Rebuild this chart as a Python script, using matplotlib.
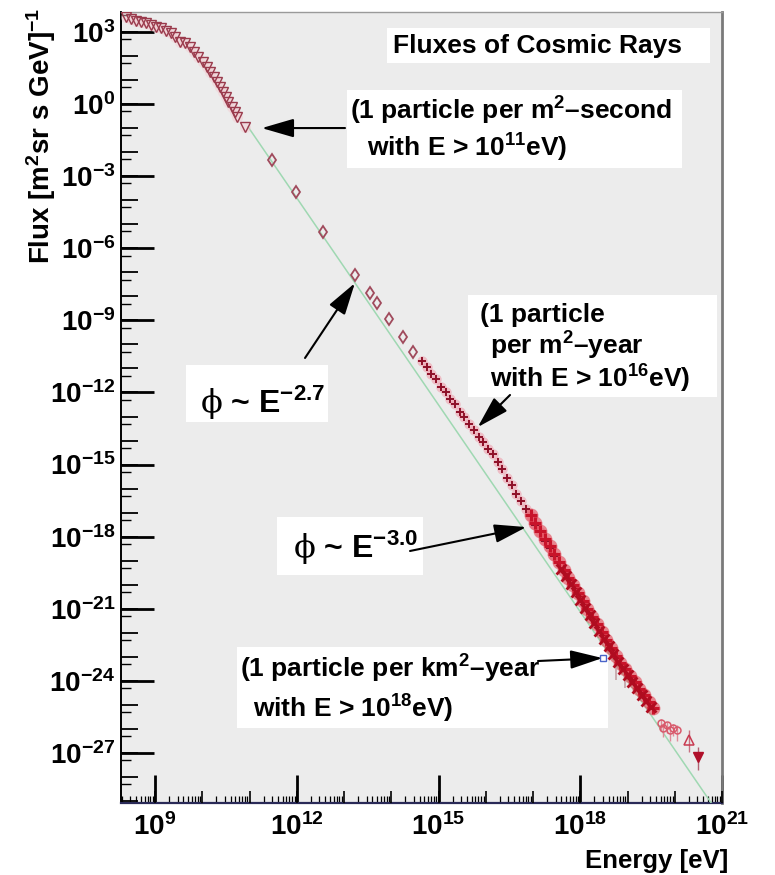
import numpy as np
import matplotlib
matplotlib.use("Agg")
import matplotlib.pyplot as plt
from matplotlib.ticker import FixedLocator, LogLocator, NullLocator, NullFormatter
from matplotlib.patches import Rectangle

plt.rcParams.update({
    "font.family": ["Liberation Sans", "DejaVu Sans"],
    "font.weight": "bold",
    "axes.labelweight": "bold",
    "mathtext.fontset": "custom",
    "mathtext.rm": "Liberation Sans:bold",
    "mathtext.bf": "Liberation Sans:bold",
    "mathtext.it": "Liberation Sans:bold:italic",
    "mathtext.sf": "DejaVu Serif:weight=normal",
})

# ---------------- data (log10 of energy in eV, log10 of flux) ----------------
# low-energy spectrum (open down triangles)
tri_log_energy = [8.39, 8.49, 8.60, 8.70, 8.81, 8.91, 9.02, 9.12, 9.23, 9.33,
                  9.42, 9.53, 9.63, 9.74, 9.82, 9.92, 10.01, 10.09, 10.16, 10.25,
                  10.32, 10.37, 10.44, 10.50, 10.55, 10.62, 10.69, 10.74, 10.90]
tri_log_flux = [3.61, 3.54, 3.47, 3.43, 3.36, 3.29, 3.22, 3.15, 3.05, 2.95,
                2.78, 2.60, 2.53, 2.36, 2.18, 1.97, 1.76, 1.56, 1.35, 1.14,
                0.93, 0.72, 0.51, 0.31, 0.10, -0.11, -0.32, -0.55, -0.94]

# balloon / satellite points (open diamonds)
diam_log_energy = [11.47, 11.98, 12.56, 13.23, 13.55, 13.69, 13.95, 14.25, 14.46]
diam_log_flux = [-2.33, -3.65, -5.31, -7.11, -7.85, -8.29, -8.96, -9.68, -10.30]

# air-shower points around the knee
knee_log_energy = [14.65, 14.75, 14.85, 14.95, 15.05, 15.15, 15.25, 15.35, 15.45, 15.55,
                   15.65, 15.75, 15.85, 15.95, 16.05, 16.15, 16.25, 16.35, 16.45, 16.55,
                   16.65, 16.75, 16.85, 16.95, 17.05, 17.15, 17.25, 17.35, 17.45]
knee_log_flux = [-10.70, -10.94, -11.25, -11.46, -11.76, -11.98, -12.28, -12.50, -12.80, -13.03,
                 -13.31, -13.55, -13.84, -14.07, -14.35, -14.58, -14.90, -15.20, -15.55, -15.85,
                 -16.21, -16.50, -16.86, -17.15, -17.51, -17.80, -18.16, -18.45, -18.81]

# high-energy air-shower points (two overlapping data sets)
uhe_a_log_energy = [16.95, 17.05, 17.15, 17.25, 17.35, 17.45, 17.55, 17.65, 17.75, 17.85,
                    17.95, 18.05, 18.15, 18.25, 18.35, 18.45, 18.55, 18.65, 18.75, 18.85,
                    18.95, 19.05, 19.15, 19.25, 19.35, 19.45, 19.55]
uhe_a_log_flux = [-17.11, -17.44, -17.75, -18.10, -18.40, -18.72, -19.05, -19.40, -19.70, -20.03,
                  -20.36, -20.66, -21.01, -21.35, -21.64, -21.98, -22.30, -22.62, -22.95, -23.26,
                  -23.52, -23.80, -24.06, -24.33, -24.58, -24.88, -25.12]
uhe_b_log_energy = [17.6, 17.7, 17.8, 17.9, 18.0, 18.1, 18.2, 18.3, 18.4, 18.5,
                    18.6, 18.7, 18.8, 18.9, 19.0, 19.1, 19.2, 19.3, 19.4, 19.5]
uhe_b_log_flux = [-19.33, -19.64, -19.98, -20.30, -20.62, -20.95, -21.27, -21.60, -21.93, -22.24,
                  -22.56, -22.90, -23.22, -23.50, -23.76, -24.05, -24.31, -24.58, -24.84, -25.10]

# points with large lower errors near 10^19 eV
wide_log_energy = [18.76, 18.94]
wide_log_flux = [-23.26, -23.78]
wide_log_err_low = [0.70, 0.50]

# highest-energy tail
tail_log_energy = [19.70, 19.76, 19.83, 19.90, 19.96, 20.04]
tail_log_flux = [-25.75, -25.95, -25.85, -26.05, -25.95, -26.05]
tail_log_err_low = [0.35, 0.40, 0.30, 0.45, 0.35, 0.45]
tail_log_err_high = [0.15, 0.20, 0.15, 0.20, 0.15, 0.20]

up_log_energy = [20.31]
up_log_flux = [-26.46]
up_log_err = ([0.49], [0.41])
down_log_energy = [20.49]
down_log_flux = [-27.16]
down_log_err = ([0.54], [0.41])

# single marker at 1 particle per km^2-year
km_log_energy = [18.48]
km_log_flux = [-23.06]

# power-law guide line
fit_log_energy = [10.97, 20.80]
fit_log_flux = [-0.95, -29.16]

# axis ranges and tick decades
x_log_range = (8.28, 21.0)
y_log_range = (-29.08, 3.83)
xtick_exp = [9, 12, 15, 18, 21]
ytick_exp = [-27, -24, -21, -18, -15, -12, -9, -6, -3, 0, 3]

# annotation targets (log10 E, log10 flux)
ann_second = (11.26, -1.00)
ann_year = (15.83, -13.44)
ann_27 = (13.23, -7.45)
ann_30 = (16.86, -17.60)
ann_km = (18.47, -23.05)


def lin(v):
    return 10.0 ** np.asarray(v, dtype=float)


def log_err(logf, lo, hi):
    f = lin(logf)
    return [f - lin(np.asarray(logf) - np.asarray(lo)), lin(np.asarray(logf) + np.asarray(hi)) - f]


# ---------------- figure ----------------
fig = plt.figure(figsize=(7.75, 8.75), dpi=100)
rect = [121 / 775, 1 - 803 / 875, 601 / 775, 791 / 875]
ax = fig.add_axes(rect)
ax.set_facecolor("#ececec")
ax.set_xscale("log")
ax.set_yscale("log")
ax.set_xlim(lin(x_log_range[0]), lin(x_log_range[1]))
ax.set_ylim(lin(y_log_range[0]), lin(y_log_range[1]))

# guide line
ax.plot(lin(fit_log_energy), lin(fit_log_flux), color="#9fd8b2", lw=1.1, zorder=3)

# low-energy triangles with soft halo
ax.plot(lin(tri_log_energy), lin(tri_log_flux), "o", ms=8, color="#f3c8cd", alpha=0.45,
        mec="none", zorder=3)
ax.plot(lin(tri_log_energy), lin(tri_log_flux), "v", ms=7, mfc="none", mec="#9a3a4c",
        mew=1.0, zorder=4)

# diamonds
ax.plot(lin(diam_log_energy), lin(diam_log_flux), "d", ms=6.5, mfc="none", mec="#a04a5c",
        mew=1.3, zorder=4)

# knee crosses
ax.plot(lin(knee_log_energy), lin(knee_log_flux), "o", ms=7.5, color="#eea0ae", alpha=0.6,
        mec="none", zorder=3)
ax.plot(lin(knee_log_energy), lin(knee_log_flux), "+", ms=6, color="#8e1028", mew=1.4, zorder=4)

# dense UHE band
ax.plot(lin(uhe_a_log_energy), lin(uhe_a_log_flux), "o", ms=10, color="#e44252", alpha=0.6,
        mec="none", zorder=3)
ax.plot(lin(uhe_a_log_energy), lin(uhe_a_log_flux), "+", ms=9, color="#c8142a", mew=2.2, zorder=4)
ax.plot(lin(uhe_b_log_energy), lin(uhe_b_log_flux), "x", ms=7, color="#b00c20", mew=2.0, zorder=4)

# points with large error bars
ax.errorbar(lin(wide_log_energy), lin(wide_log_flux),
            yerr=log_err(wide_log_flux, wide_log_err_low, [0.1, 0.1]),
            fmt="none", ecolor="#c4a2a6", elinewidth=1.2, zorder=3)

# tail
ax.errorbar(lin(tail_log_energy), lin(tail_log_flux),
            yerr=log_err(tail_log_flux, tail_log_err_low, tail_log_err_high),
            fmt="o", ms=5, mfc="none", mec="#d85a6c", mew=1.1,
            ecolor="#e08a98", elinewidth=1.0, zorder=4)
ax.errorbar(lin(up_log_energy), lin(up_log_flux),
            yerr=log_err(up_log_flux, up_log_err[0], up_log_err[1]),
            fmt="^", ms=7, mfc="none", mec="#c83a50", mew=1.1,
            ecolor="#c87080", elinewidth=1.0, zorder=4)
ax.errorbar(lin(down_log_energy), lin(down_log_flux),
            yerr=log_err(down_log_flux, down_log_err[0], down_log_err[1]),
            fmt="v", ms=7, mfc="#b0102a", mec="#b0102a",
            ecolor="#b06070", elinewidth=1.0, zorder=4)

ax.plot(lin(km_log_energy), lin(km_log_flux), "s", ms=4, mfc="none", mec="#4a64c8", mew=1.0,
        zorder=5)

# ---------------- axes styling ----------------
ax.xaxis.set_major_locator(FixedLocator(lin(xtick_exp)))
ax.yaxis.set_major_locator(FixedLocator(lin(ytick_exp)))
ax.xaxis.set_minor_locator(LogLocator(base=10, subs=np.arange(2, 10), numticks=300))
ax.yaxis.set_minor_locator(LogLocator(base=10, subs=(5.0,), numticks=300))
ax.xaxis.set_minor_formatter(NullFormatter())
ax.yaxis.set_minor_formatter(NullFormatter())
ax.tick_params(which="both", direction="in", top=False, right=False, colors="black")
ax.tick_params(axis="x", which="major", length=20, width=2.0, labelsize=20, pad=7)
ax.tick_params(axis="y", which="major", length=24, width=2.0, labelsize=20, pad=4)
ax.tick_params(axis="x", which="minor", length=5, width=0.9)
ax.tick_params(axis="y", which="minor", length=7, width=1.0)

ax.spines["left"].set_color("black")
ax.spines["left"].set_linewidth(1.4)
ax.spines["bottom"].set_color("#2a2a58")
ax.spines["bottom"].set_linewidth(1.6)
ax.spines["top"].set_color("#9a9a9a")
ax.spines["top"].set_linewidth(1.0)
ax.spines["right"].set_color("#7a7a7a")
ax.spines["right"].set_linewidth(2.0)

ax.set_ylabel("Flux [m$^{2}$sr s GeV]$^{-1}$", fontsize=20, fontweight="bold", loc="top")
ax.yaxis.set_label_coords(-0.104, 1.006)
ax.set_xlabel("Energy [eV]", fontsize=18.5, fontweight="bold", loc="right")
ax.xaxis.set_label_coords(1.01, -0.058)

# decade ticks of intermediate length
ov = fig.add_axes(rect, frameon=False)
ov.set_xscale("log")
ov.set_yscale("log")
ov.set_xlim(ax.get_xlim())
ov.set_ylim(ax.get_ylim())
ov.xaxis.set_major_locator(LogLocator(base=10, numticks=300))
ov.yaxis.set_major_locator(LogLocator(base=10, numticks=300))
ov.xaxis.set_minor_locator(NullLocator())
ov.yaxis.set_minor_locator(NullLocator())
ov.tick_params(direction="in", labelbottom=False, labelleft=False, top=False, right=False)
ov.tick_params(axis="x", length=9, width=1.2)
ov.tick_params(axis="y", length=12, width=1.3)
ov.set_navigate(False)

# ---------------- annotation boxes ----------------
boxes = [
    (0.4426, 0.9355, 0.5374, 0.0442),
    (0.3760, 0.8028, 0.5574, 0.0986),
    (0.5774, 0.5133, 0.4143, 0.1290),
    (0.1082, 0.4817, 0.2363, 0.0721),
    (0.2596, 0.2882, 0.2429, 0.0733),
    (0.1930, 0.0948, 0.6173, 0.1024),
]
for x0, y0, w, h in boxes:
    ax.add_patch(Rectangle((x0, y0), w, h, transform=ax.transAxes, facecolor="white",
                           edgecolor="none", zorder=2))

txt = dict(transform=ax.transAxes, ha="left", va="baseline", zorder=6)
ax.text(0.4526, 0.9482, "Fluxes of Cosmic Rays", fontsize=19, **txt)
ax.text(0.3810, 0.8635, "(1 particle per m$^{2}$\u2013second", fontsize=19, **txt)
ax.text(0.4093, 0.8167, "with E > 10$^{11}$eV)", fontsize=19, **txt)
ax.text(0.5973, 0.6081, "(1 particle", fontsize=19, **txt)
ax.text(0.6140, 0.5664, "per m$^{2}$\u2013year", fontsize=19, **txt)
ax.text(0.6140, 0.5246, "with E > 10$^{16}$eV)", fontsize=19, **txt)
ax.text(0.1314, 0.4930, "$\\mathsf{\u03d5}$ ~ E$^{-2.7}$", fontsize=23, **txt)
ax.text(0.2862, 0.3097, "$\\mathsf{\u03d5}$ ~ E$^{-3.0}$", fontsize=23, **txt)
ax.text(0.1980, 0.1580, "(1 particle per km$^{2}$\u2013year", fontsize=19, **txt)
ax.text(0.2196, 0.1075, "with E > 10$^{18}$eV)", fontsize=19, **txt)

arrow = dict(arrowstyle="-|>,head_length=1.1,head_width=0.32", color="black", lw=1.5,
             mutation_scale=18, shrinkA=0, shrinkB=0)
arrows = [
    (ann_second, (0.3727, 0.8533)),
    (ann_year, (0.6473, 0.5158)),
    (ann_27, (0.3062, 0.5626)),
    (ann_30, (0.4809, 0.3186)),
    (ann_km, (0.6938, 0.1795)),
]
for (le, lf), tail in arrows:
    ax.annotate("", xy=(10 ** le, 10 ** lf), xycoords="data", xytext=tail,
                textcoords="axes fraction", arrowprops=arrow, zorder=5)

fig.savefig("out.png", dpi=100)
